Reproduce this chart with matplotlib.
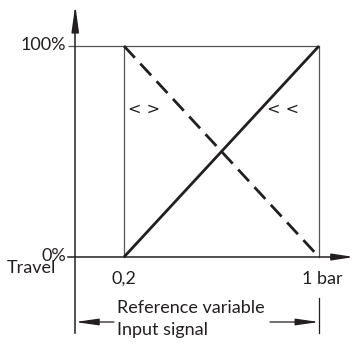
import matplotlib
matplotlib.use("Agg")
import matplotlib.pyplot as plt

# ---- data ----
signal_bar = [0.2, 1.0]                 # input signal (bar)
travel_direct = [0, 100]                # "<<" characteristic (%)
travel_reverse = [100, 0]               # "<>" characteristic (%)
x_tick_values = [0.2, 1.0]
x_tick_labels = ["0,2", "1 bar"]
y_tick_values = [0, 100]
y_tick_labels = ["0%", "100%"]
label_direct = "< <"
label_reverse = "< >"
y_title = "Travel"
x_title_1 = "Reference variable"
x_title_2 = "Input signal"

plt.rcParams['font.family'] = ['Lato', 'DejaVu Sans']
plt.rcParams['lines.scale_dashes'] = False

W, H, DPI = 354, 345, 100
fig = plt.figure(figsize=(W / DPI, H / DPI), dpi=DPI)
ax = fig.add_axes([0, 0, 1, 1])

# pixel mapping: x=0 -> 75.25px, 243.75 px per bar; y=0% -> 257px, 2.11 px per %
x0px, sx = 75.25, 243.75
y0px, sy = 257.0, 2.11
ax.set_xlim((0 - x0px) / sx, (W - x0px) / sx)
ax.set_ylim((y0px - H) / sy, (y0px - 0) / sy)
ax.axis('off')

def px2x(p):
    return (p - x0px) / sx

def px2y(p):
    return (y0px - p) / sy

ink = '#231f20'
grey = '#555555'

xmin, xmax = signal_bar[0], signal_bar[-1]
ymin, ymax = min(y_tick_values), max(y_tick_values)

# frame lines
ax.plot([px2x(68), xmax], [ymax, ymax], color=grey, lw=0.9, solid_capstyle='butt')
ax.plot([xmin, xmin], [ymin, ymax], color=grey, lw=0.9)
ax.plot([xmax, xmax], [ymin, ymax], color=grey, lw=0.9)
ax.plot([xmax, xmax], [px2y(298), px2y(333)], color=ink, lw=0.9)

# axes with arrows
ax.plot([0, 0], [px2y(333), px2y(22)], color=ink, lw=1.1)
ax.annotate('', xy=(0, px2y(5)), xytext=(0, px2y(26)),
            arrowprops=dict(arrowstyle='-|>,head_length=1.6,head_width=0.22',
                            color=ink, lw=1.1, shrinkA=0, shrinkB=0))
ax.plot([px2x(68), px2x(340)], [ymin, ymin], color=ink, lw=1.1)
ax.annotate('', xy=(px2x(354), ymin), xytext=(px2x(336), ymin),
            arrowprops=dict(arrowstyle='-|>,head_length=1.3,head_width=0.2',
                            color=ink, lw=1.1, shrinkA=0, shrinkB=0))

# characteristics
ax.plot(signal_bar, travel_direct, color=ink, lw=2.0, solid_capstyle='butt')
ax.plot(signal_bar, travel_reverse, color=ink, lw=2.0, dashes=(11.5, 5.8),
        dash_capstyle='butt')

fs = 13
# tick labels
for v, t in zip(y_tick_values, y_tick_labels):
    ax.text(px2x(66), v + (0.5 if v else 0.3), t, ha='right', va='center',
            fontsize=fs, color=ink)
ax.text(x_tick_values[0], px2y(279), x_tick_labels[0], ha='center', va='center',
        fontsize=fs, color=ink)
ax.text(px2x(322), px2y(279), x_tick_labels[1], ha='center', va='center',
        fontsize=fs, color=ink)
ax.text(px2x(31), px2y(268), y_title, ha='center', va='center',
        fontsize=fs, color=ink)

# curve labels
ax.text(px2x(144), px2y(110), label_reverse, ha='center', va='center',
        fontsize=11.5, color=ink, family='DejaVu Sans')
ax.text(px2x(283), px2y(110), label_direct, ha='center', va='center',
        fontsize=11.5, color=ink, family='DejaVu Sans')

# bottom titles and range arrows
ax.text(px2x(117), px2y(308), x_title_1, ha='left', va='center',
        fontsize=fs, color=ink)
ax.text(px2x(117), px2y(330), x_title_2, ha='left', va='center',
        fontsize=fs, color=ink)
ya = px2y(322)
ax.annotate('', xy=(0, ya), xytext=(px2x(114), ya),
            arrowprops=dict(arrowstyle='-|>,head_length=1.4,head_width=0.2',
                            color=ink, lw=0.9, shrinkA=0, shrinkB=0))
ax.annotate('', xy=(xmax, ya), xytext=(px2x(270), ya),
            arrowprops=dict(arrowstyle='-|>,head_length=1.4,head_width=0.2',
                            color=ink, lw=0.9, shrinkA=0, shrinkB=0))

fig.savefig('out.png', dpi=DPI, facecolor='white')
